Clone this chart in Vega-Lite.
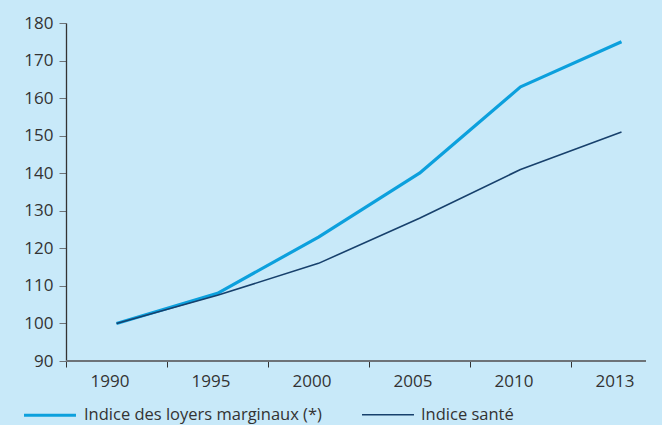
{
  "$schema": "https://vega.github.io/schema/vega-lite/v6.json",
  "width": 580,
  "height": 338,
  "autosize": "none",
  "padding": {"left": 66, "top": 23, "right": 16, "bottom": 64},
  "background": "#c8e9f9",
  "config": {
    "view": {"stroke": null},
    "font": "Open Sans",
    "axis": {"labelFont": "Open Sans", "labelFontSize": 17, "labelColor": "#333333", "grid": false, "labelOverlap": false}
  },
  "data": {
    "values": [
      {"annee": "1990", "serie": "Indice des loyers marginaux (*)", "valeur": 100},
      {"annee": "1995", "serie": "Indice des loyers marginaux (*)", "valeur": 108},
      {"annee": "2000", "serie": "Indice des loyers marginaux (*)", "valeur": 123},
      {"annee": "2005", "serie": "Indice des loyers marginaux (*)", "valeur": 140},
      {"annee": "2010", "serie": "Indice des loyers marginaux (*)", "valeur": 163},
      {"annee": "2013", "serie": "Indice des loyers marginaux (*)", "valeur": 175},
      {"annee": "1990", "serie": "Indice santé", "valeur": 100},
      {"annee": "1995", "serie": "Indice santé", "valeur": 107.5},
      {"annee": "2000", "serie": "Indice santé", "valeur": 116},
      {"annee": "2005", "serie": "Indice santé", "valeur": 128},
      {"annee": "2010", "serie": "Indice santé", "valeur": 141},
      {"annee": "2013", "serie": "Indice santé", "valeur": 151}
    ]
  },
  "encoding": {
    "y": {
      "field": "valeur",
      "type": "quantitative",
      "scale": {"domain": [90, 180], "nice": false, "zero": false},
      "axis": {
        "title": null,
        "values": [90, 100, 110, 120, 130, 140, 150, 160, 170, 180],
        "tickCount": 10,
        "labelOverlap": false,
        "tickSize": 7,
        "tickColor": "#6e7378",
        "domainColor": "#333333",
        "domainWidth": 1.3,
        "labelPadding": 6
      }
    }
  },
  "layer": [
    {
      "mark": {"type": "rule", "color": "#6e7378", "strokeWidth": 1.5},
      "encoding": {"y": {"datum": 90, "type": "quantitative", "axis": {
        "title": null,
        "values": [90, 100, 110, 120, 130, 140, 150, 160, 170, 180],
        "tickCount": 10,
        "labelOverlap": false,
        "tickSize": 7,
        "tickColor": "#6e7378",
        "domainColor": "#333333",
        "domainWidth": 1.3,
        "labelPadding": 6
      }}}
    },
    {
      "mark": {"type": "line", "strokeCap": "butt", "strokeJoin": "round"},
      "encoding": {
        "x": {
          "field": "annee",
          "type": "ordinal",
          "scale": {"type": "band", "paddingInner": 0, "paddingOuter": 0, "range": [0, 606]},
          "axis": {
            "title": null,
            "labelAngle": 0,
            "tickBand": "extent",
            "tickSize": 6,
            "tickColor": "#333333",
            "domain": false,
            "labelPadding": 6,
            "labelOffset": -7
          }
        },
        "color": {
          "field": "serie",
          "type": "nominal",
          "scale": {"domain": ["Indice des loyers marginaux (*)", "Indice santé"], "range": ["#0ca0dd", "#17406c"]},
          "legend": {
            "title": null,
            "orient": "none",
            "legendX": -44,
            "legendY": 364,
            "direction": "horizontal",
            "symbolType": "stroke",
            "symbolSize": 2700,
            "symbolStrokeWidth": 2.5,
            "labelFont": "Open Sans",
            "labelFontSize": 16.5,
            "labelColor": "#333333",
            "labelOffset": 6,
            "labelLimit": 400,
            "columnPadding": 36
          }
        },
        "strokeWidth": {
          "field": "serie",
          "type": "nominal",
          "scale": {"domain": ["Indice des loyers marginaux (*)", "Indice santé"], "range": [3.2, 1.6]},
          "legend": null
        }
      }
    }
  ]
}
